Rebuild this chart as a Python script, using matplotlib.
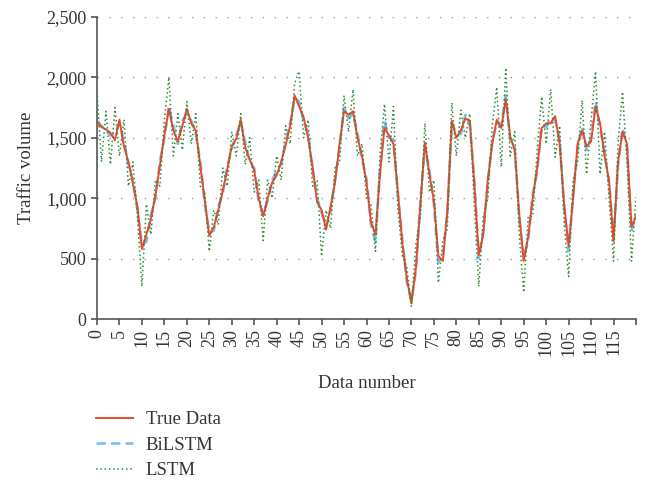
import numpy as np
import matplotlib
matplotlib.use('Agg')
import matplotlib.pyplot as plt
from matplotlib.ticker import FuncFormatter, MultipleLocator

# valeurs (x = 0..120)
true_data = [1620, 1590, 1570, 1540, 1480, 1650, 1430, 1300, 1120, 930,
             580, 700, 830, 1020, 1270, 1520, 1740, 1560, 1470, 1600,
             1740, 1620, 1560, 1270, 980, 690, 760, 900, 1060, 1240,
             1430, 1490, 1650, 1420, 1320, 1230, 1000, 850, 1000, 1130,
             1190, 1300, 1440, 1600, 1850, 1760, 1670, 1500, 1260, 970,
             900, 740, 930, 1130, 1450, 1720, 1690, 1720, 1500, 1350,
             1130, 800, 700, 1200, 1580, 1520, 1450, 1050, 620, 330,
             130, 420, 950, 1460, 1200, 980, 520, 480, 900, 1640,
             1500, 1560, 1660, 1640, 1120, 530, 700, 1150, 1450, 1650,
             1580, 1820, 1510, 1400, 870, 480, 680, 1000, 1250, 1580,
             1620, 1620, 1680, 1450, 950, 600, 1000, 1450, 1560, 1430,
             1470, 1760, 1620, 1350, 1150, 640, 1300, 1550, 1450, 760,
             850]

bilstm = [1640, 1600, 1560, 1520, 1540, 1620, 1470, 1280, 1150, 900,
          620, 640, 860, 1000, 1300, 1500, 1760, 1600, 1450, 1640,
          1700, 1640, 1530, 1300, 950, 720, 730, 930, 1040, 1260,
          1410, 1520, 1630, 1460, 1300, 1250, 970, 870, 980, 1150,
          1230, 1280, 1470, 1620, 1830, 1800, 1640, 1530, 1230, 1000,
          880, 770, 900, 1160, 1420, 1750, 1660, 1700, 1540, 1320,
          1160, 780, 640, 1230, 1640, 1500, 1480, 1020, 650, 300,
          150, 400, 980, 1430, 1230, 950, 470, 520, 880, 1620,
          1540, 1530, 1690, 1610, 1150, 500, 730, 1120, 1480, 1620,
          1600, 1850, 1480, 1420, 840, 510, 650, 1030, 1220, 1600,
          1590, 1660, 1650, 1480, 920, 560, 1030, 1420, 1590, 1400,
          1500, 1800, 1580, 1380, 1120, 680, 1270, 1580, 1420, 730,
          870]

lstm = [1880, 1300, 1720, 1280, 1750, 1350, 1650, 1100, 1300, 850,
        270, 950, 700, 1150, 1100, 1650, 2000, 1350, 1700, 1400,
        1800, 1450, 1700, 1100, 1050, 560, 900, 780, 1250, 1100,
        1550, 1350, 1700, 1280, 1500, 1050, 1150, 650, 1150, 1000,
        1350, 1150, 1600, 1450, 1950, 2050, 1500, 1650, 1100, 1150,
        520, 900, 750, 1250, 1300, 1850, 1550, 1900, 1350, 1450,
        1000, 950, 560, 1350, 1780, 1300, 1760, 900, 520, 420,
        100, 620, 850, 1620, 1050, 1150, 300, 650, 750, 1790,
        1350, 1730, 1500, 1700, 950, 270, 850, 1000, 1600, 1920,
        1260, 2080, 1350, 1550, 700, 220, 850, 850, 1400, 1840,
        1450, 1900, 1340, 1600, 800, 350, 1150, 1300, 1810, 1200,
        1650, 2050, 1200, 1550, 1000, 480, 1450, 1880, 1300, 480,
        1010]

x = np.arange(len(true_data))
xtick_labels = [str(v) for v in range(0, 120, 5)]

plt.rcParams['font.family'] = ['Liberation Serif', 'DejaVu Serif']
txt = '#333333'

fig = plt.figure(figsize=(6.47, 4.82), dpi=100)
ax = fig.add_axes([97/647, 1 - 319/482, (636 - 97)/647, (319 - 17)/482])

ax.plot(x, bilstm, color='#74c2ec', lw=1.9, ls=(0, (3.5, 2)), label='BiLSTM', zorder=2)
ax.plot(x, true_data, color='#f0462a', lw=1.4, label='True Data', zorder=3)
ax.plot(x, lstm, color='#2e8b3c', lw=1.1, ls=(0, (1, 1.8)), label='LSTM', zorder=4)

ax.set_xlim(0, 120)
ax.set_ylim(0, 2500)
ax.set_xticks(range(0, 121, 5))
ax.set_xticklabels(xtick_labels + [''], rotation=90)
ax.yaxis.set_major_locator(MultipleLocator(500))
ax.yaxis.set_major_formatter(FuncFormatter(lambda v, p: '{:,.0f}'.format(v)))

ax.grid(axis='y', color='#999999', lw=1.0, ls=(0, (1, 7.5)))
ax.set_axisbelow(True)
for s in ['top', 'right']:
    ax.spines[s].set_visible(False)
for s in ['left', 'bottom']:
    ax.spines[s].set_color('#555555')
    ax.spines[s].set_linewidth(1.2)
ax.tick_params(axis='both', colors='#555555', labelcolor=txt, labelsize=13, length=4, width=1.2)
ax.tick_params(axis='x', pad=3)

ax.set_xlabel('Data number', fontsize=13.5, color=txt, labelpad=14)
ax.set_ylabel('Traffic volume', fontsize=13.5, color=txt, labelpad=8)

h, l = ax.get_legend_handles_labels()
order = [1, 0, 2]
ax.legend([h[i] for i in order], [l[i] for i in order], loc='upper left',
          bbox_to_anchor=(96/647, 1 - 411/482), bbox_transform=fig.transFigure,
          frameon=False, fontsize=13.5, handlelength=1.95, handletextpad=0.7,
          labelspacing=0.45, borderpad=0, borderaxespad=0, labelcolor=txt)

fig.savefig('out.png', dpi=100)
